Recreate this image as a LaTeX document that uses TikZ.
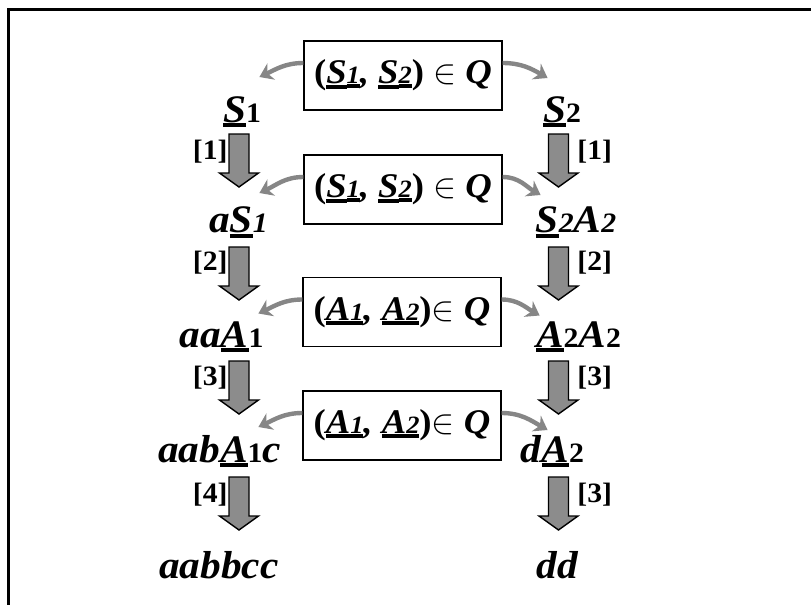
\documentclass[tikz,border=0pt]{standalone}
\usepackage{fontspec}
\setmainfont{Liberation Serif}[FakeStretch=1.06]
\usepackage{tikz}
\usetikzlibrary{arrows.meta}

% underlined symbol and small index on the baseline
\newcommand{\ubar}[1]{\vtop{\hbox{#1}\kern0.3pt\hrule height 2pt}}
\makeatletter
\newcommand{\idx}[1]{{\fontsize{\the\dimexpr\f@size pt*72/100\relax}{0pt}\selectfont #1}}
\makeatother

\tikzset{
  term/.style={inner sep=0pt, anchor=base, font=\fontsize{19.5}{22}\selectfont\bfseries\itshape},
  rulenum/.style={inner sep=0pt, font=\fontsize{14}{16}\selectfont\bfseries},
  pairbox/.style={draw, line width=0.6pt, minimum width=99pt, minimum height=34.5pt,
    inner sep=0pt, font=\fontsize{17.3}{20}\selectfont\bfseries\itshape},
  pairarrow/.style={draw=gray!95, line width=2.2pt, -{Stealth[length=6.5pt,width=9pt]}},
  blockarrow/.style={fill=gray!90, draw=black, line width=0.7pt},
  derive/.pic={
    \filldraw[blockarrow] (-10,0) -- (10,0) -- (10,39) -- (19.5,39) -- (0,53)
      -- (-19.5,39) -- (-10,39) -- cycle;
  }
}

\begin{document}
\begin{tikzpicture}[x=0.5pt, y=-0.5pt]

\useasboundingbox (0,0) rectangle (811,605);
\draw [line width=1.25pt] (811,9.5) -- (8.5,9.5) -- (8.5,605);

% left derivation
\node [term] (l1) at (242,122) {\ubar{S}\idx{\upshape 1}};
\node [term] (l2) at (238.5,233) {a\ubar{S}\idx{1}};
\node [term] (l3) at (221.5,347) {aa\ubar{A}\idx{\upshape 1}};
\node [term] (l4) at (219.5,462) {aab\ubar{A}\idx{\upshape 1}c};
\node [term] (l5) at (219,578) {aabbcc};

\pic at (239,134) {derive};
\pic at (239,247) {derive};
\pic at (239,361) {derive};
\pic at (239,477) {derive};

\node [rulenum, anchor=east] (ln1) at (228,152) {[1]};
\node [rulenum, anchor=east] (ln2) at (228,263) {[2]};
\node [rulenum, anchor=east] (ln3) at (228,378) {[3]};
\node [rulenum, anchor=east] (ln4) at (228,495) {[4]};

% right derivation
\node [term] (r1) at (562,122) {\ubar{S}\idx{\upshape 2}};
\node [term] (r2) at (576,233) {\ubar{S}\idx{2}A\idx{2}};
\node [term] (r3) at (578.5,347) {\ubar{A}\idx{\upshape 2}A\idx{\upshape 2}};
\node [term] (r4) at (552.5,462) {d\ubar{A}\idx{\upshape 2}};
\node [term] (r5) at (557.5,578) {dd};

\pic at (558.5,134) {derive};
\pic at (558.5,247) {derive};
\pic at (558.5,361) {derive};
\pic at (558.5,477) {derive};

\node [rulenum, anchor=west] (rn1) at (577,152) {[1]};
\node [rulenum, anchor=west] (rn2) at (577,263) {[2]};
\node [rulenum, anchor=west] (rn3) at (577,378) {[3]};
\node [rulenum, anchor=west] (rn4) at (577,495) {[3]};

% synchronised pairs
\node [pairbox] (q1) at (403,75.5) {{\upshape(}\ubar{S}\ubar{\idx{1}}, \ubar{S}\ubar{\idx{2}}{\upshape)} $\in$ Q};
\node [pairbox] (q2) at (403,189.5) {{\upshape(}\ubar{S}\ubar{\idx{1}}, \ubar{S}\ubar{\idx{2}}{\upshape)} $\in$ Q};
\node [pairbox] (q3) at (402,312) {{\upshape(}\ubar{A}\ubar{\idx{1}}, \ubar{A}\ubar{\idx{2}}{\upshape)}$\in$ Q};
\node [pairbox] (q4) at (402,425.5) {{\upshape(}\ubar{A}\ubar{\idx{1}}, \ubar{A}\ubar{\idx{2}}{\upshape)}$\in$ Q};

\draw [pairarrow] ([yshift=6.25pt]q1.west) to[out=180,in=25] ++(-44,14);
\draw [pairarrow] ([yshift=6.25pt]q1.east) to[out=0,in=150] ++(45,15);
\draw [pairarrow] ([yshift=6.25pt]q2.west) to[out=180,in=25] ++(-44,16);
\draw [pairarrow] ([yshift=6.25pt]q2.east) to[out=0,in=150] ++(38,18);
\draw [pairarrow] ([yshift=6.25pt]q3.west) to[out=180,in=25] ++(-44,14);
\draw [pairarrow] ([yshift=6.25pt]q3.east) to[out=0,in=150] ++(38,16);
\draw [pairarrow] ([yshift=6.25pt]q4.west) to[out=180,in=25] ++(-44,14);
\draw [pairarrow] ([yshift=6.25pt]q4.east) to[out=0,in=150] ++(46,17);

\end{tikzpicture}
\end{document}
